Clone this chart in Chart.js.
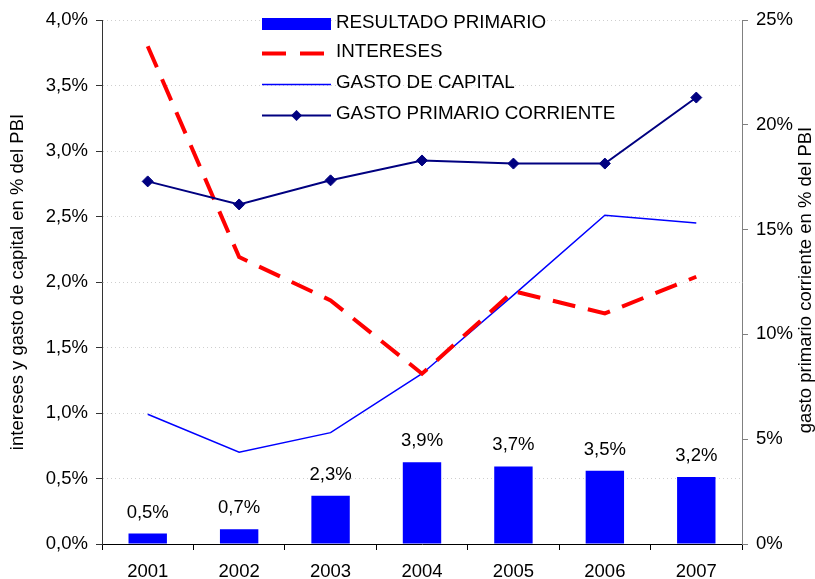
<!DOCTYPE html>
<html lang="es">
<head>
  <meta charset="UTF-8">
  <title>Resultado primario, intereses y gasto</title>
  <script src="https://cdn.jsdelivr.net/npm/chart.js"></script>
  <style>
    body {
      margin: 0;
      background: #ffffff;
    }
    #wrap {
      width: 815px;
      height: 579px;
    }
  </style>
</head>
<body>
  <div id="wrap">
    <canvas id="grafico" width="815" height="579"></canvas>
  </div>

  <script>
    // datos
    const anios = ['2001', '2002', '2003', '2004', '2005', '2006', '2007'];
    const resultadoPrimario = [0.5, 0.7, 2.3, 3.9, 3.7, 3.5, 3.2];      // eje derecho
    const intereses = [3.80, 2.19, 1.86, 1.30, 1.93, 1.76, 2.04];        // eje izquierdo
    const gastoCapital = [0.99, 0.70, 0.85, 1.30, 1.90, 2.51, 2.45];     // eje izquierdo
    const gastoCorriente = [17.3, 16.2, 17.35, 18.3, 18.15, 18.15, 21.3]; // eje derecho
    const ticksIzq = [0, 0.5, 1, 1.5, 2, 2.5, 3, 3.5, 4];
    const ticksDer = [0, 5, 10, 15, 20, 25];

    const fuente = "'Liberation Sans', Arial, sans-serif";
    Chart.defaults.font.family = fuente;
    Chart.defaults.font.size = 18.5;
    Chart.defaults.color = '#000';

    function pct1(v) {
      return v.toFixed(1).replace('.', ',') + '%';
    }

    // etiquetas encima de las barras
    const etiquetasBarras = {
      id: 'etiquetasBarras',
      afterDatasetsDraw(chart) {
        const ctx = chart.ctx;
        const meta = chart.getDatasetMeta(3);
        ctx.save();
        ctx.font = '18.5px ' + fuente;
        ctx.fillStyle = '#000';
        ctx.textAlign = 'center';
        ctx.textBaseline = 'alphabetic';
        meta.data.forEach((bar, i) => {
          ctx.fillText(pct1(resultadoPrimario[i]), bar.x, bar.y - 16);
        });
        ctx.restore();
      }
    };

    // titulo del eje derecho, leido de abajo hacia arriba
    const tituloDerecho = {
      id: 'tituloDerecho',
      afterDraw(chart) {
        const ctx = chart.ctx;
        const a = chart.chartArea;
        ctx.save();
        ctx.translate(chart.width - 9, (a.top + a.bottom) / 2 - 2);
        ctx.rotate(-Math.PI / 2);
        ctx.font = '18.5px ' + fuente;
        ctx.fillStyle = '#000';
        ctx.textAlign = 'center';
        ctx.textBaseline = 'middle';
        ctx.fillText('gasto primario corriente en % del PBI', 0, 0);
        ctx.restore();
      }
    };

    // leyenda dentro del area del grafico
    const leyenda = {
      id: 'leyenda',
      afterDraw(chart) {
        const ctx = chart.ctx;
        const a = chart.chartArea;
        const x0 = a.left + 160;
        const filas = [a.top + 4, a.top + 33.5, a.top + 64.5, a.top + 95.5];
        ctx.save();

        ctx.fillStyle = '#0000ff';
        ctx.fillRect(x0, filas[0] - 6, 69, 12);

        ctx.strokeStyle = '#ff0000';
        ctx.lineWidth = 4;
        ctx.beginPath();
        ctx.moveTo(x0, filas[1]); ctx.lineTo(x0 + 24, filas[1]);
        ctx.moveTo(x0 + 38, filas[1]); ctx.lineTo(x0 + 62, filas[1]);
        ctx.stroke();

        ctx.strokeStyle = '#0000ff';
        ctx.lineWidth = 1.5;
        ctx.beginPath();
        ctx.moveTo(x0, filas[2]); ctx.lineTo(x0 + 69, filas[2]);
        ctx.stroke();

        ctx.strokeStyle = '#000080';
        ctx.lineWidth = 2;
        ctx.beginPath();
        ctx.moveTo(x0, filas[3]); ctx.lineTo(x0 + 69, filas[3]);
        ctx.stroke();
        ctx.fillStyle = '#000080';
        const cx = x0 + 34.5, r = 5.5;
        ctx.beginPath();
        ctx.moveTo(cx - r, filas[3]); ctx.lineTo(cx, filas[3] - r);
        ctx.lineTo(cx + r, filas[3]); ctx.lineTo(cx, filas[3] + r);
        ctx.closePath();
        ctx.fill();

        const textos = ['RESULTADO PRIMARIO', 'INTERESES', 'GASTO DE CAPITAL', 'GASTO PRIMARIO CORRIENTE'];
        ctx.font = '18.8px ' + fuente;
        ctx.fillStyle = '#000';
        ctx.textAlign = 'left';
        ctx.textBaseline = 'middle';
        textos.forEach((t, i) => ctx.fillText(t, x0 + 74, filas[i] - 1.5));
        ctx.restore();
      }
    };

    new Chart(document.getElementById('grafico'), {
      type: 'bar',
      data: {
        labels: anios,
        datasets: [
          {
            type: 'line',
            label: 'GASTO PRIMARIO CORRIENTE',
            data: gastoCorriente,
            yAxisID: 'y1',
            borderColor: '#000080',
            backgroundColor: '#000080',
            borderWidth: 2,
            pointStyle: 'rectRot',
            pointRadius: 5.5,
            pointBorderWidth: 1,
            tension: 0,
            fill: false
          },
          {
            type: 'line',
            label: 'INTERESES',
            data: intereses,
            yAxisID: 'y',
            borderColor: '#ff0000',
            borderWidth: 4,
            borderDash: [23, 13],
            pointRadius: 0,
            tension: 0,
            fill: false
          },
          {
            type: 'line',
            label: 'GASTO DE CAPITAL',
            data: gastoCapital,
            yAxisID: 'y',
            borderColor: '#0000ff',
            borderWidth: 1.5,
            pointRadius: 0,
            tension: 0,
            fill: false
          },
          {
            type: 'bar',
            label: 'RESULTADO PRIMARIO',
            data: resultadoPrimario,
            yAxisID: 'y1',
            backgroundColor: '#0000ff',
            borderWidth: 0,
            categoryPercentage: 1,
            barPercentage: 0.42
          }
        ]
      },
      options: {
        responsive: false,
        animation: false,
        devicePixelRatio: 1,
        layout: { padding: { top: 20, left: 0, right: 0, bottom: 0 } },
        plugins: {
          legend: { display: false },
          tooltip: { enabled: false }
        },
        scales: {
          x: {
            offset: true,
            grid: {
              display: true,
              offset: true,
              drawOnChartArea: false,
              drawTicks: true,
              tickLength: 6,
              tickColor: '#000'
            },
            border: { color: '#000', width: 1 },
            ticks: { padding: 11, maxRotation: 0 },
            afterFit(s) { s.height = 35; }
          },
          y: {
            position: 'left',
            min: 0,
            max: 4,
            afterBuildTicks(s) { s.ticks = ticksIzq.map(v => ({ value: v })); },
            ticks: {
              padding: 8,
              callback: v => pct1(v)
            },
            grid: {
              color: c => c.tick && c.tick.value === 0 ? 'rgba(0,0,0,0)' : '#cfcfcf',
              lineWidth: 1,
              drawTicks: true,
              tickLength: 6,
              tickColor: '#333',
              tickBorderDash: []
            },
            border: { color: '#333', width: 1, dash: [1, 3] },
            title: {
              display: true,
              text: 'intereses y gasto de capital en % del PBI',
              font: { size: 18.5, lineHeight: 1 },
              padding: { top: 9, bottom: 0 }
            },
            afterFit(s) { s.width = 102; }
          },
          y1: {
            position: 'right',
            min: 0,
            max: 25,
            afterBuildTicks(s) { s.ticks = ticksDer.map(v => ({ value: v })); },
            ticks: {
              padding: 8,
              callback: v => v + '%'
            },
            grid: {
              drawOnChartArea: false,
              drawTicks: true,
              tickLength: 6,
              tickColor: '#808080'
            },
            border: { color: '#808080', width: 1 },
            afterFit(s) { s.width = 73; }
          }
        }
      },
      plugins: [etiquetasBarras, leyenda, tituloDerecho]
    });
  </script>
</body>
</html>
